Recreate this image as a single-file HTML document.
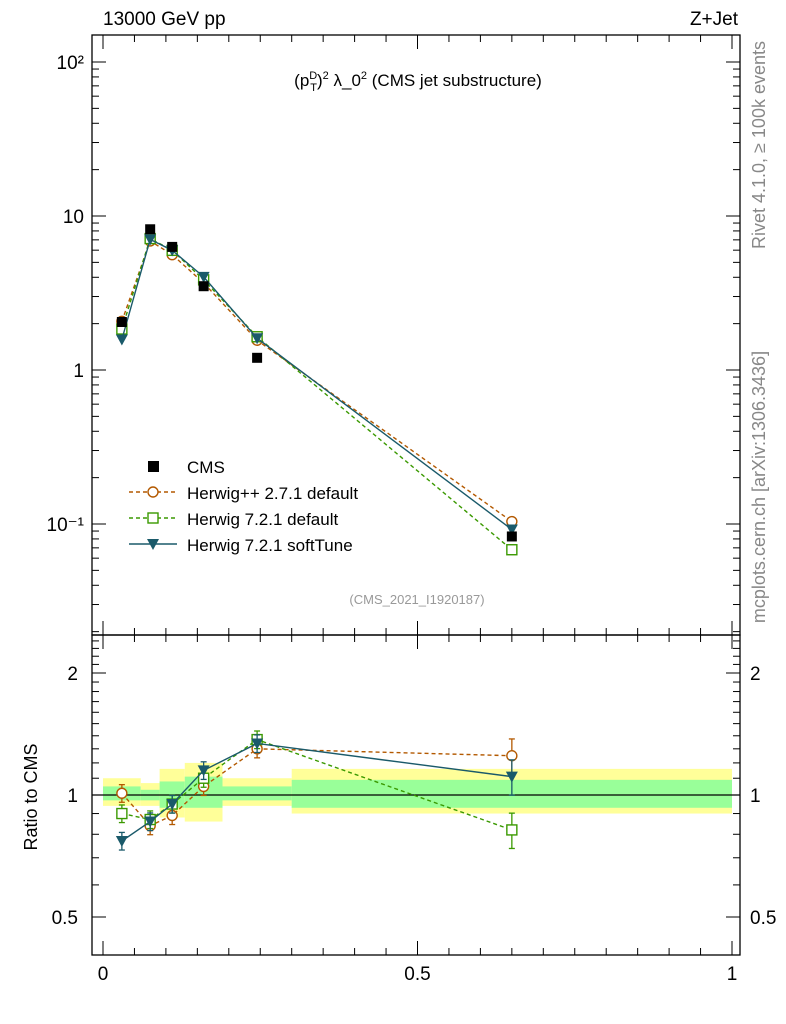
<!DOCTYPE html>
<html><head><meta charset="utf-8">
<style>
html,body{margin:0;padding:0;background:#fff;}
svg{display:block;font-family:"Liberation Sans",sans-serif;}
</style></head>
<body>
<svg id="chart" width="786" height="1024" viewBox="0 0 786 1024" xmlns="http://www.w3.org/2000/svg">
<text x="103" y="25" font-size="19">13000 GeV pp</text>
<text x="738" y="25" font-size="19" text-anchor="end">Z+Jet</text>
<text x="418" y="86" font-size="17" text-anchor="middle">(p<tspan font-size="11" dy="-7">D</tspan><tspan font-size="11" dx="-7" dy="12">T</tspan><tspan dy="-5">)</tspan><tspan font-size="11" dy="-7">2</tspan><tspan dy="7"> λ_0</tspan><tspan font-size="11" dy="-7">2</tspan><tspan dy="7"> (CMS jet substructure)</tspan></text>
<text x="417" y="604" font-size="13" fill="#999" text-anchor="middle">(CMS_2021_I1920187)</text>
<text transform="translate(765,145) rotate(-90)" font-size="18" fill="#888" text-anchor="middle">Rivet 4.1.0, ≥ 100k events</text>
<text transform="translate(765,487) rotate(-90)" font-size="18" fill="#888" text-anchor="middle">mcplots.cern.ch [arXiv:1306.3436]</text>
<text transform="translate(37,797) rotate(-90)" font-size="18" text-anchor="middle">Ratio to CMS</text>
<g id="g"></g>
</svg>
<script>
const binEdges=[0,0.06,0.09,0.13,0.19,0.3,1.0];
const xPoints=[0.03,0.075,0.11,0.16,0.245,0.65];
const cmsValues=[2.05,8.2,6.3,3.5,1.2,0.083];
const hppRatio=[1.01,0.84,0.89,1.05,1.30,1.25];
const h7Ratio=[0.90,0.87,0.95,1.10,1.37,0.82];
const softRatio=[0.77,0.86,0.95,1.15,1.34,1.11];
const yellowLo=[0.94,0.94,0.88,0.86,0.94,0.90];
const yellowHi=[1.10,1.07,1.16,1.20,1.10,1.16];
const greenLo=[0.97,0.97,0.93,0.93,0.97,0.93];
const greenHi=[1.05,1.03,1.08,1.11,1.05,1.09];
const mainTicks=[0.1,1,10,100];
const mainTickLabels=["10⁻¹","1","10","10²"];
const ratioTicks=[0.5,1,2];
const xTicks=[0,0.5,1];

const X0=103,X1=732;
const sx=v=>X0+(X1-X0)*v;
const sy=v=>370-154*Math.log10(v);
const sr=v=>795-122*Math.log2(v);
const NS="http://www.w3.org/2000/svg";
const g=document.getElementById('g');
function mk(tag,attrs,parent){const e=document.createElementNS(NS,tag);for(const k in attrs)e.setAttribute(k,attrs[k]);(parent||g).appendChild(e);return e;}

for(let i=0;i<6;i++){
 let r=mk('rect',{x:sx(binEdges[i]),y:sr(yellowHi[i]),width:sx(binEdges[i+1])-sx(binEdges[i]),height:sr(yellowLo[i])-sr(yellowHi[i]),fill:'#ffff99'});
 
 
 let r2=mk('rect',{x:sx(binEdges[i]),y:sr(greenHi[i]),width:sx(binEdges[i+1])-sx(binEdges[i]),height:sr(greenLo[i])-sr(greenHi[i]),fill:'#99ff99'});
 
 
}
mk('line',{x1:92,x2:740,y1:sr(1),y2:sr(1),stroke:'#000','stroke-width':1.3});

let f1=mk('rect',{x:92,y:35,width:648,height:600,fill:'none',stroke:'#000','stroke-width':1.3});


let f2=mk('rect',{x:92,y:635,width:648,height:320,fill:'none',stroke:'#000','stroke-width':1.3});



for(let d=-2;d<=2;d++){for(let m=1;m<10;m++){const v=m*Math.pow(10,d);const y=sy(v);if(y<35||y>635)continue;const L=m===1?14:7;
 mk('line',{x1:92,x2:92+L,y1:y,y2:y,stroke:'#000'});mk('line',{x1:740,x2:740-L,y1:y,y2:y,stroke:'#000'});}}
mainTicks.forEach((v,i)=>{const t=mk('text',{x:84,y:sy(v)+7,'font-size':19,'text-anchor':'end'});t.textContent=mainTickLabels[i];
 
 });
for(let v=0.4;v<=2.5;v+=0.1){const y=sr(v);if(y<635||y>955)continue;const major=ratioTicks.some(t=>Math.abs(t-v)<1e-6);const L=major?14:7;
 mk('line',{x1:92,x2:92+L,y1:y,y2:y,stroke:'#000'});mk('line',{x1:740,x2:740-L,y1:y,y2:y,stroke:'#000'});}
ratioTicks.forEach(v=>{const t=mk('text',{x:78,y:sr(v)+7,'font-size':19,'text-anchor':'end'});t.textContent=String(v);
 
 
 const t2=mk('text',{x:750,y:sr(v)+7,'font-size':19});t2.textContent=String(v);
 
 });
for(let v=0;v<=1.0001;v+=0.05){const x=sx(v);const major=Math.abs(v*2-Math.round(v*2))<1e-6;const L=major?14:7;
 [35,635].forEach(y0=>mk('line',{x1:x,x2:x,y1:y0,y2:y0+L,stroke:'#000'}));
 [635,955].forEach(y0=>mk('line',{x1:x,x2:x,y1:y0,y2:y0-L,stroke:'#000'}));}
xTicks.forEach(v=>{const t=mk('text',{x:sx(v),y:980,'font-size':19,'text-anchor':'middle'});t.textContent=String(v);
 
 });

function marker(type,x,y,col){
 if(type==='circle')return mk('circle',{cx:x,cy:y,r:5,fill:'#fff',stroke:col,'stroke-width':1.4});
 if(type==='square')return mk('rect',{x:x-5,y:y-5,width:10,height:10,fill:'#fff',stroke:col,'stroke-width':1.4});
 if(type==='tri')return mk('path',{d:`M${x-6},${y-5}L${x+6},${y-5}L${x},${y+6}Z`,fill:col});
}
const series=[
 {name:'herwigpp-271',ratio:hppRatio,col:'#b35900',dash:'4,3',m:'circle'},
 {name:'herwig-721-default',ratio:h7Ratio,col:'#3a9900',dash:'4,3',m:'square'},
 {name:'herwig-721-softtune',ratio:softRatio,col:'#1a5a6a',dash:'',m:'tri'}];
series.forEach(s=>{
 const abs=s.ratio.map((r,i)=>r*cmsValues[i]);
 const pm=xPoints.map((x,i)=>`${sx(x)},${sy(abs[i])}`).join(' ');
 const pr=xPoints.map((x,i)=>`${sx(x)},${sr(s.ratio[i])}`).join(' ');
 const l1=mk('polyline',{points:pm,fill:'none',stroke:s.col,'stroke-width':1.4,'stroke-dasharray':s.dash});
 
 
 const l2=mk('polyline',{points:pr,fill:'none',stroke:s.col,'stroke-width':1.4,'stroke-dasharray':s.dash});
 
 
 xPoints.forEach((x,i)=>{
  const e=i===5?0.1:0.05;
  const ya=sr(s.ratio[i]*(1+e)),yb=sr(s.ratio[i]*(1-e));
  mk('line',{x1:sx(x),x2:sx(x),y1:ya,y2:yb,stroke:s.col,'stroke-width':1.3});
  mk('line',{x1:sx(x)-3,x2:sx(x)+3,y1:ya,y2:ya,stroke:s.col,'stroke-width':1.3});
  mk('line',{x1:sx(x)-3,x2:sx(x)+3,y1:yb,y2:yb,stroke:s.col,'stroke-width':1.3});
  const p=marker(s.m,sx(x),sy(abs[i]),s.col);
  
  
  const q=marker(s.m,sx(x),sr(s.ratio[i]),s.col);
  
  
 });
});
xPoints.forEach((x,i)=>{
 const r=mk('rect',{x:sx(x)-5,y:sy(cmsValues[i])-5,width:10,height:10,fill:'#000'});
 
 
});

const leg=[{t:'CMS',m:'cms'},{t:'Herwig++ 2.7.1 default',s:series[0]},{t:'Herwig 7.2.1 default',s:series[1]},{t:'Herwig 7.2.1 softTune',s:series[2]}];
leg.forEach((e,i)=>{
 const y=466+i*26;
 const grp=mk('g',{});
 
 
 if(e.m==='cms'){mk('rect',{x:148,y:y-5,width:11,height:11,fill:'#000'},grp);}
 else{mk('line',{x1:129,x2:177,y1:y,y2:y,stroke:e.s.col,'stroke-width':1.4,'stroke-dasharray':e.s.dash},grp);
  const m=marker(e.s.m,153,y,e.s.col);grp.appendChild(m);}
 const t=mk('text',{x:187,y:y+7,'font-size':17},grp);t.textContent=e.t;
});
</script>
</body></html>
